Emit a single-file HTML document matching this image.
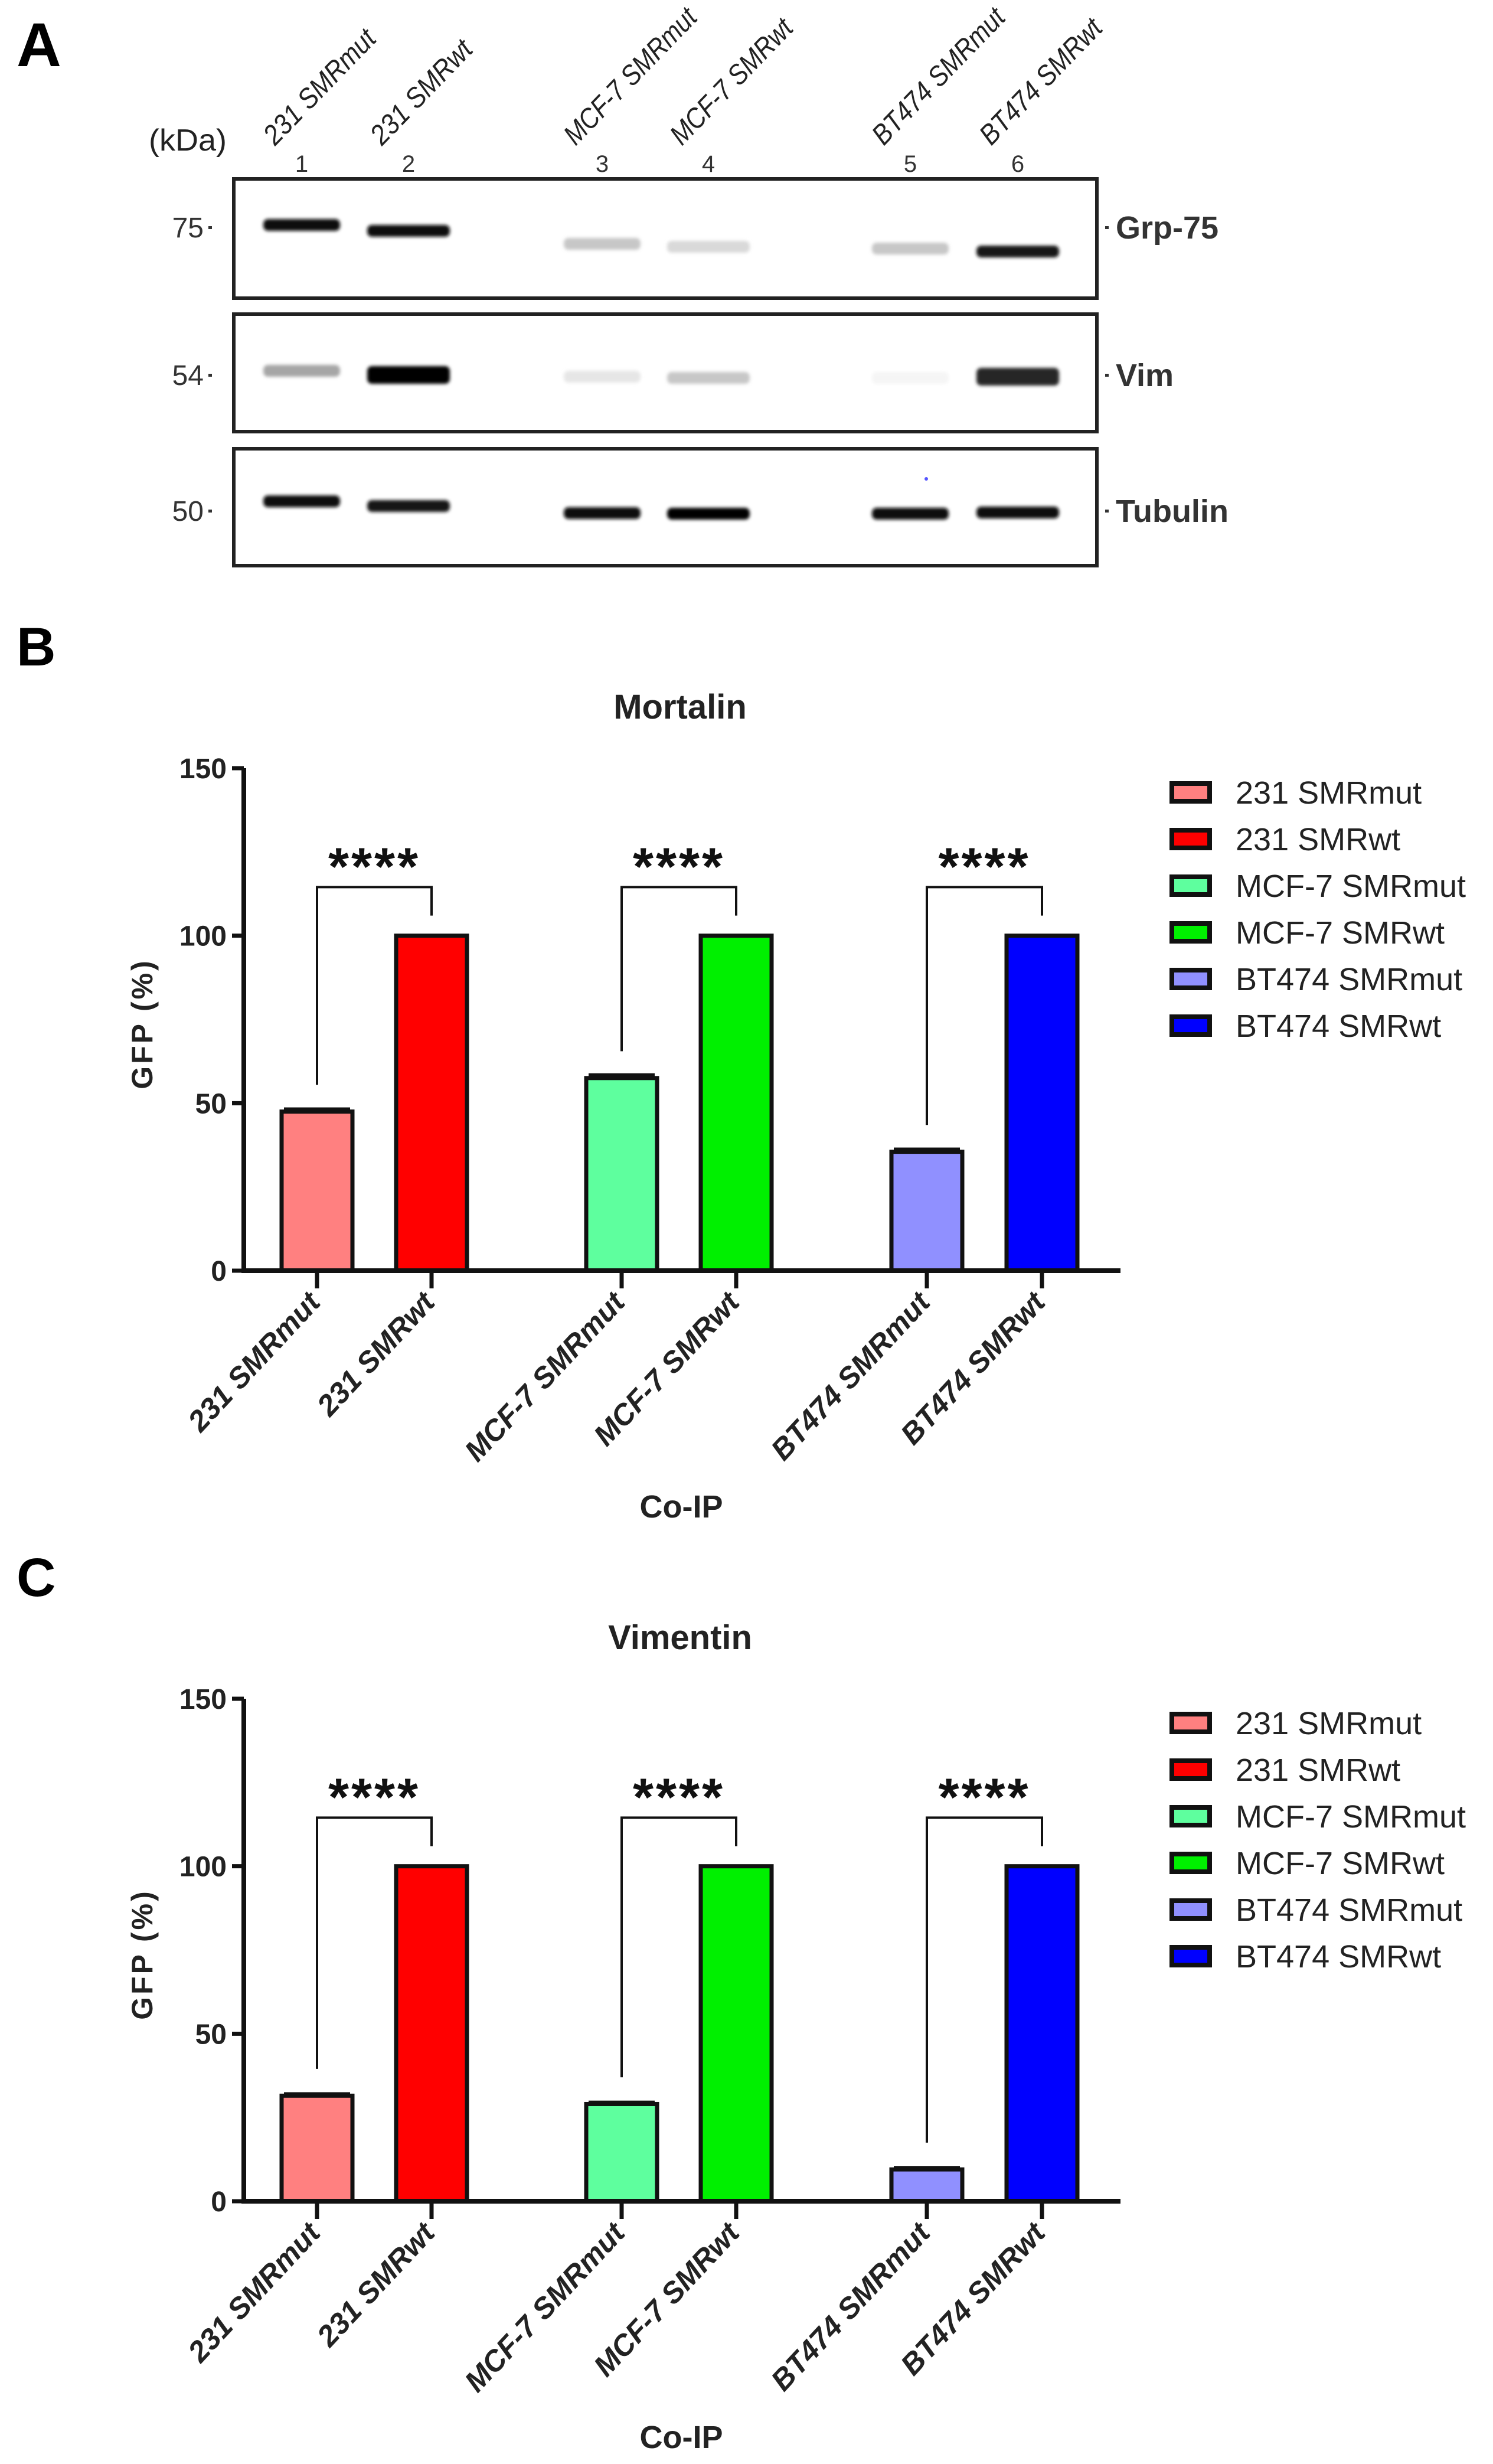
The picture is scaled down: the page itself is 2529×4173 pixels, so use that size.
<!DOCTYPE html>
<html><head><meta charset="utf-8"><style>
html,body{margin:0;padding:0;background:#fff;}
svg{display:block;font-family:"Liberation Sans",Arial,sans-serif;}
</style></head><body>
<svg id="fig" width="2529" height="4173" viewBox="0 0 2529 4173" xmlns="http://www.w3.org/2000/svg">
<defs>
<filter id="blur" x="-20%" y="-100%" width="140%" height="300%"><feGaussianBlur stdDeviation="3"/></filter>
</defs>
<g id="panelA">
<text x="28" y="112" font-size="105" font-weight="bold">A</text>
<text x="252" y="255" font-size="52" fill="#222" textLength="132" lengthAdjust="spacingAndGlyphs">(kDa)</text>
</g>
<g id="panelB"></g>
<g id="panelC"></g>
</svg>
<script>
const NS='http://www.w3.org/2000/svg';
function mk(parent,tag,attrs,text){const e=document.createElementNS(NS,tag);for(const k in attrs)e.setAttribute(k,attrs[k]);if(text!==undefined)e.textContent=text;parent.appendChild(e);return e;}

// ---------- Panel A data ----------
const laneLabels=['231 SMRmut','231 SMRwt','MCF-7 SMRmut','MCF-7 SMRwt','BT474 SMRmut','BT474 SMRwt'];
const laneNumbers=['1','2','3','4','5','6'];
const blotNames=['Grp-75','Vim','Tubulin'];
const markerKDa=['75','54','50'];
const grpIntensity=[0.95,0.97,0.22,0.15,0.22,0.92];
const vimIntensity=[0.35,1.0,0.1,0.22,0.04,0.85];
const tubIntensity=[0.95,0.92,0.97,0.98,0.97,0.97];
const bandIntensities=[grpIntensity,vimIntensity,tubIntensity];

const A=document.getElementById('panelA');
const laneX=[511,692,1020,1200,1542,1724];
const boxes=[[303,505],[532,731],[760,958]];
const bandY=[[381,391,413,418,421,426],[628,635,638,640,640,638],[849,857,869,870,870,868]];
laneLabels.forEach((l,i)=>{
  const x=laneX[i]-45,y=248;
  const len=l.length*25;
  const t=mk(A,'text',{x:x,y:y,'font-size':48,'font-style':'italic',fill:'#222',textLength:len,lengthAdjust:'spacingAndGlyphs',transform:`rotate(-46 ${x} ${y})`},l);
  
  
  const n=mk(A,'text',{x:laneX[i],y:291,'font-size':40,'text-anchor':'middle',fill:'#333'},laneNumbers[i]);
  
  
});
boxes.forEach((b,k)=>{
  const g=mk(A,'g',{});
  
  
  mk(g,'rect',{x:396,y:b[0],width:1462,height:b[1]-b[0],fill:'#fff',stroke:'#222','stroke-width':6});
  const my=[385,635,865][k];
  const mt=mk(g,'text',{x:345,y:my+17,'font-size':48,'text-anchor':'end',fill:'#333'},markerKDa[k]);
  
  
  mk(g,'rect',{x:353,y:my-2,width:6,height:5,fill:'#333'});
  mk(g,'rect',{x:1872,y:my-2,width:6,height:5,fill:'#333'});
  const nt=mk(g,'text',{x:1890,y:my+19,'font-size':54,'font-weight':'bold',fill:'#333'},blotNames[k]);
  
  
  bandIntensities[k].forEach((v,i)=>{
    const w=(i%2==0?130:140), h=(k==1&&(i==1||i==5))?30:20;
    const gray=Math.round(255*(1-v));
    const e=mk(g,'rect',{x:laneX[i]-w/2,y:bandY[k][i]-h/2,width:w,height:h,rx:8,fill:`rgb(${gray},${gray},${gray})`,filter:'url(#blur)'});
    
    
  });
});
mk(A,'circle',{cx:1569,cy:811,r:3,fill:'#55f'});

// ---------- Bar charts data ----------
const categories=['231 SMRmut','231 SMRwt','MCF-7 SMRmut','MCF-7 SMRwt','BT474 SMRmut','BT474 SMRwt'];
const mortalinValues=[47.5,100,57.5,100,35.5,100];
const mortalinErrors=[0.8,0,1,0,0.8,0];
const vimentinValues=[31.5,100,29,100,9.5,100];
const vimentinErrors=[0.6,0,0.6,0,0.6,0];
const yTicks=[0,50,100,150];
const sigLabels=['****','****','****'];
const colors=['#ff8080','#ff0000','#5eff9e','#00f000','#9090ff','#0000ff'];

function drawChart(gid,off,title,values,errors,letter){
  const g=document.getElementById(gid);
  const y0=2152+off, ppu=(2152-1301)/150;
  const yS=v=>y0-v*ppu;
  const centers=[537,731,1053,1247,1570,1765];
  const bw=120;
  const lt=mk(g,'text',{x:28,y:1127+off,'font-size':92,'font-weight':'bold'},letter);
  
  
  const tt=mk(g,'text',{x:1152,y:1217+off,'font-size':58,'font-weight':'bold','text-anchor':'middle',fill:'#222'},title);
  
  
  values.forEach((v,i)=>{
    const r=mk(g,'rect',{x:centers[i]-bw/2,y:yS(v),width:bw,height:y0-yS(v),fill:colors[i],stroke:'#111','stroke-width':7});
    
    
    if(errors[i]>0){
      const eb=mk(g,'path',{d:`M${centers[i]-bw/2+4} ${yS(v+errors[i])}H${centers[i]+bw/2-4}`,stroke:'#111','stroke-width':5,fill:'none'});
      
      
    }
  });
  const ya=mk(g,'path',{d:`M413 ${yS(150)}V${y0+3}`,stroke:'#111','stroke-width':8,fill:'none'});
  
  
  const xa=mk(g,'path',{d:`M409 ${y0}H1898`,stroke:'#111','stroke-width':8,fill:'none'});
  
  
  yTicks.forEach(t=>{
    mk(g,'path',{d:`M393 ${yS(t)}H413`,stroke:'#111','stroke-width':7});
    const tl=mk(g,'text',{x:384,y:yS(t)+17,'font-size':48,'font-weight':'bold','text-anchor':'end',fill:'#222'},String(t));
    
    
  });
  categories.forEach((c,i)=>{
    mk(g,'path',{d:`M${centers[i]} ${y0}V${y0+30}`,stroke:'#111','stroke-width':7});
    const x=centers[i]+8,y=y0+56;
    const xl=mk(g,'text',{x:x,y:y,'font-size':50,'font-weight':'bold','font-style':'italic','text-anchor':'end',fill:'#222',transform:`rotate(-47 ${x} ${y})`},c);
    
    
  });
  const yt=mk(g,'text',{x:258,y:1734+off,'font-size':50,'font-weight':'bold','letter-spacing':4,'text-anchor':'middle',fill:'#222',transform:`rotate(-90 258 ${1734+off})`},'GFP (%)');
  
  
  const xt=mk(g,'text',{x:1154,y:2570+off,'font-size':54,'font-weight':'bold','text-anchor':'middle',fill:'#222'},'Co-IP');
  
  
  for(let p=0;p<3;p++){
    const a=centers[2*p],b=centers[2*p+1];
    const top=yS(114.5);
    const br=mk(g,'path',{d:`M${a} ${yS(values[2*p]+8)}V${top}H${b}V${yS(106)}`,stroke:'#111','stroke-width':4,fill:'none'});
    
    
    const st=mk(g,'text',{x:(a+b)/2,y:top-4,'font-size':90,'font-weight':'bold','text-anchor':'middle',fill:'#111','letter-spacing':4},sigLabels[p]);
    
    
  }
  categories.forEach((c,i)=>{
    const ly=1342+off+i*79;
    const lg=mk(g,'g',{});
    
    
    mk(lg,'rect',{x:1985,y:ly-15,width:64,height:30,fill:colors[i],stroke:'#111','stroke-width':8});
    mk(lg,'text',{x:2093,y:ly+19,'font-size':54,fill:'#222'},c);
  });
}
drawChart('panelB',0,'Mortalin',mortalinValues,mortalinErrors,'B');
drawChart('panelC',1576,'Vimentin',vimentinValues,vimentinErrors,'C');
</script>
</body></html>
